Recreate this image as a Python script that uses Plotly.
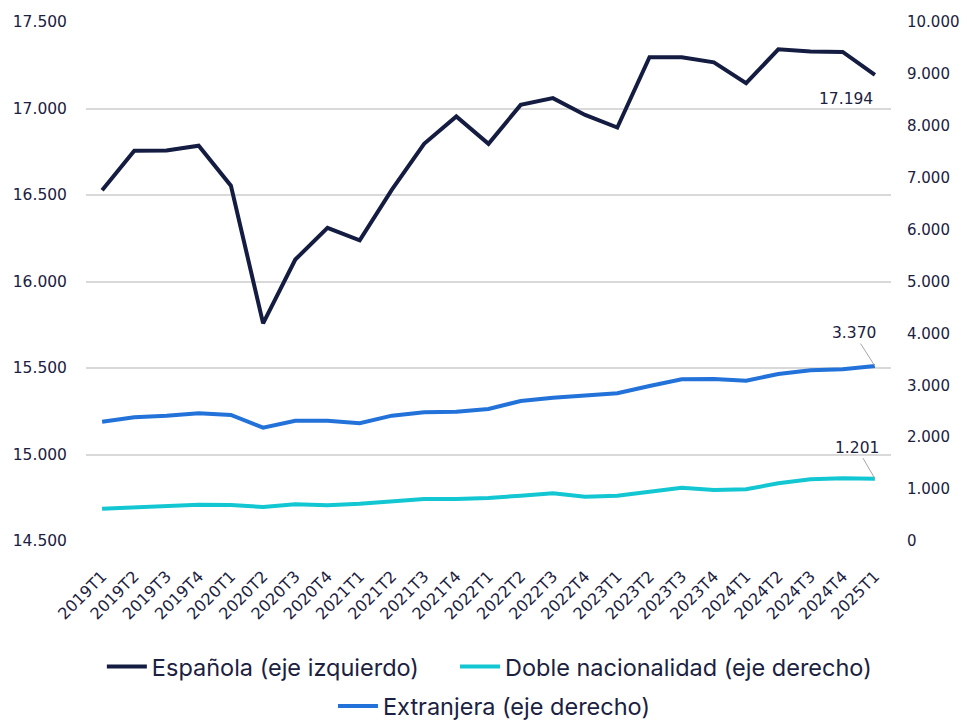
import plotly.graph_objects as go

quarters = ["2019T1","2019T2","2019T3","2019T4","2020T1","2020T2","2020T3","2020T4",
            "2021T1","2021T2","2021T3","2021T4","2022T1","2022T2","2022T3","2022T4",
            "2023T1","2023T2","2023T3","2023T4","2024T1","2024T2","2024T3","2024T4","2025T1"]

espanola = [16527, 16756, 16757, 16785, 16554, 15758, 16127, 16310, 16238, 16531, 16796, 16954,
            16796, 17021, 17060, 16963, 16890, 17296, 17296, 17267, 17146, 17342, 17329, 17327, 17194]

doble = [623, 649, 681, 700, 694, 655, 707, 688, 719, 758, 809, 809,
         829, 873, 919, 854, 873, 950, 1027, 983, 996, 1112, 1189, 1208, 1201]

extranjera = [2299, 2384, 2415, 2461, 2428, 2184, 2318, 2318, 2268, 2415, 2480, 2492,
              2545, 2698, 2761, 2813, 2846, 2987, 3116, 3122, 3089, 3218, 3289, 3308, 3370]

left_ticks = [14500, 15000, 15500, 16000, 16500, 17000, 17500]
right_ticks = [0, 1000, 2000, 3000, 4000, 5000, 6000, 7000, 8000, 9000, 10000]

def fmt(v):
    return f"{v:,}".replace(",", ".")

NAVY = "#141c42"
CYAN = "#12c6d2"
BLUE = "#2272d9"
TXT = "#1b2141"

fig = go.Figure()
fig.add_trace(go.Scatter(x=quarters, y=espanola, mode="lines", name="Española (eje izquierdo)",
                         line=dict(color=NAVY, width=4), yaxis="y", legend="legend"))
fig.add_trace(go.Scatter(x=quarters, y=doble, mode="lines", name="Doble nacionalidad (eje derecho)",
                         line=dict(color=CYAN, width=4), yaxis="y2", legend="legend3"))
fig.add_trace(go.Scatter(x=quarters, y=extranjera, mode="lines", name="Extranjera (eje derecho)",
                         line=dict(color=BLUE, width=4), yaxis="y2", legend="legend2"))

annfont = dict(family="DejaVu Sans", size=15.5, color=TXT)
fig.add_annotation(x=quarters[-1], y=espanola[-1], xref="x", yref="y", text=fmt(espanola[-1]),
                   showarrow=False, xanchor="right", yanchor="top", yshift=-13, xshift=0,
                   font=annfont)
fig.add_annotation(x=quarters[-1], y=extranjera[-1], xref="x", yref="y2", text=fmt(extranjera[-1]),
                   showarrow=True, arrowhead=0, arrowcolor="#a6a6a6", arrowwidth=1,
                   ax=-21, ay=-33, font=annfont)
fig.add_annotation(x=quarters[-1], y=doble[-1], xref="x", yref="y2", text=fmt(doble[-1]),
                   showarrow=True, arrowhead=0, arrowcolor="#a6a6a6", arrowwidth=1,
                   ax=-18, ay=-31, font=annfont)

legfont = dict(family="Inter", size=23.5, color=TXT)
legcommon = dict(orientation="h", xanchor="left", yanchor="top", font=legfont, itemwidth=40)
fig.update_layout(
    width=959, height=713,
    margin=dict(l=78, r=76, t=14, b=180, autoexpand=False),
    paper_bgcolor="white", plot_bgcolor="white",
    font=dict(family="DejaVu Sans", size=15.5, color=TXT),
    showlegend=True,
    legend=dict(x=0.0197, y=-0.2, **legcommon),
    legend3=dict(x=0.4584, y=-0.2, **legcommon),
    legend2=dict(x=0.3068, y=-0.276, **legcommon),
    xaxis=dict(type="category", range=[-0.5, 24.5], tickangle=-45, showgrid=False,
               showline=False, ticks="", tickfont=dict(size=16, color=TXT), automargin=False,
               ticklabelstandoff=22),
    yaxis=dict(range=[14500, 17500], tickvals=left_ticks, ticktext=[fmt(v) for v in left_ticks],
               showgrid=True, gridcolor="#d9d9d9", gridwidth=1.5, zeroline=False, showline=False,
               ticks="", ticklabelstandoff=18, automargin=False),
    yaxis2=dict(range=[0, 10000], tickvals=right_ticks, ticktext=[fmt(v) for v in right_ticks],
                overlaying="y", side="right", showgrid=False, zeroline=False, showline=False,
                ticks="", ticklabelstandoff=15, automargin=False, tickfont=dict(size=15)),
)

fig.write_html("out.html")
